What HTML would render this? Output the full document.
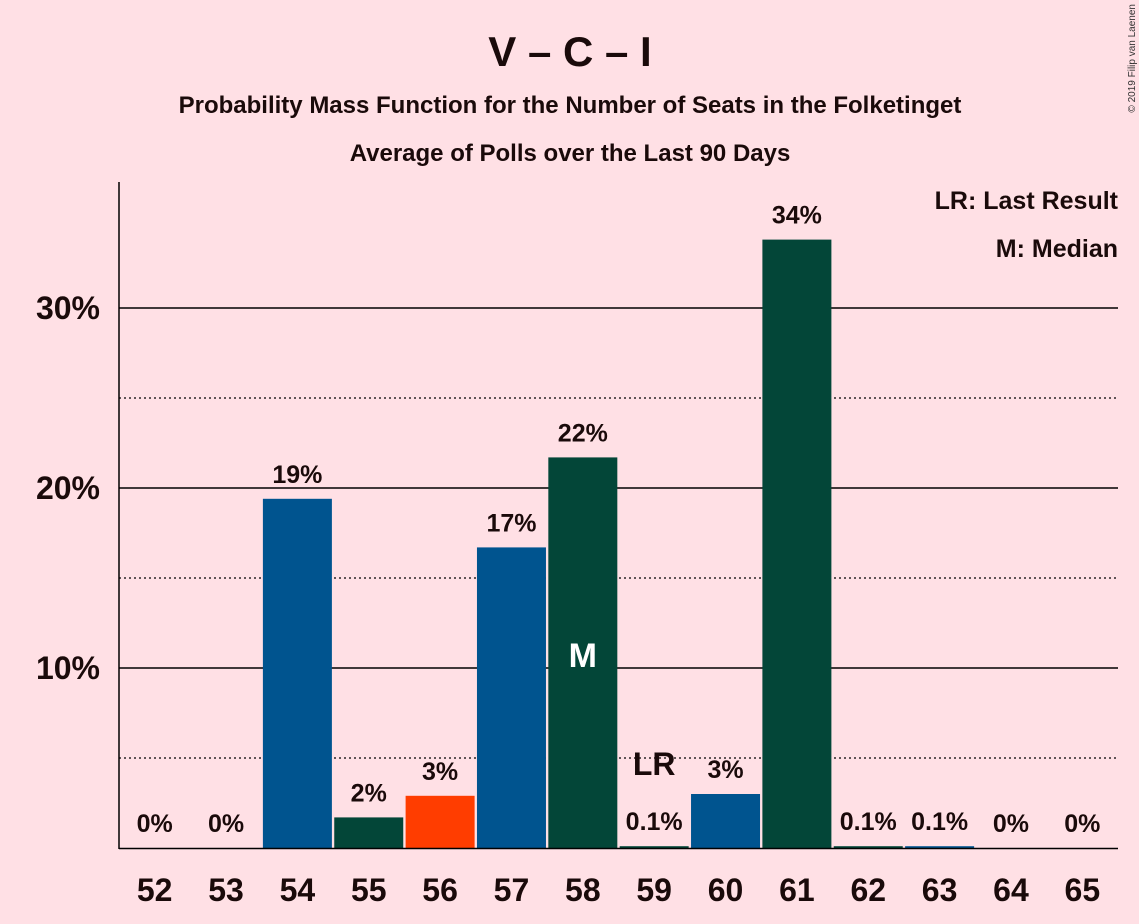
<!DOCTYPE html>
<html><head><meta charset="utf-8"><style>
html,body{margin:0;padding:0;background:#ffe0e5;}
svg{display:block;font-family:"Liberation Sans",sans-serif;}
</style></head><body>
<svg id="chart" width="1139" height="924" viewBox="0 0 1139 924">
<rect width="1139" height="924" fill="#ffe0e5"/>
<text x="570" y="66" text-anchor="middle" font-size="42" font-weight="bold" fill="#1a0a0a">V – C – I</text>
<text x="570" y="113" text-anchor="middle" font-size="24" font-weight="bold" fill="#1a0a0a">Probability Mass Function for the Number of Seats in the Folketinget</text>
<text x="570" y="161" text-anchor="middle" font-size="24" font-weight="bold" fill="#1a0a0a">Average of Polls over the Last 90 Days</text>
<text x="1135" y="4" transform="rotate(-90 1135 4)" text-anchor="end" font-size="10" fill="#333">© 2019 Filip van Laenen</text>
<text x="1118" y="209" text-anchor="end" font-size="25" font-weight="bold" fill="#1a0a0a">LR: Last Result</text>
<text x="1118" y="257" text-anchor="end" font-size="25" font-weight="bold" fill="#1a0a0a">M: Median</text>
<g id="grid"></g><g id="bars"></g><g id="labels"></g>
<line x1="119" y1="182" x2="119" y2="849" stroke="#000" stroke-width="1.5"/>
<line x1="119" y1="848.5" x2="1118" y2="848.5" stroke="#000" stroke-width="1.5"/>
</svg>
<script>
const seats=[52,53,54,55,56,57,58,59,60,61,62,63,64,65];
const probs=[0,0,19.4,1.7,2.9,16.7,21.7,0.1,3.0,33.8,0.1,0.1,0,0];
const valueLabels=["0%","0%","19%","2%","3%","17%","22%","0.1%","3%","34%","0.1%","0.1%","0%","0%"];
const barColors=["#00548f","#00548f","#00548f","#034638","#ff3d00","#00548f","#034638","#034638","#00548f","#034638","#034638","#00548f","#00548f","#034638"];
const yTicks=[10,20,30];
const yMinor=[5,15,25];
const lastResult=59, median=58;
const NS="http://www.w3.org/2000/svg";
const x0=119,step=999/14,barW=69;
const y=v=>848-18*v;
const xc=i=>x0+step*(i+0.5);
function mk(t,a,p){const e=document.createElementNS(NS,t);for(const k in a)e.setAttribute(k,a[k]);p.appendChild(e);return e;}
const g=document.getElementById('grid'),b=document.getElementById('bars'),l=document.getElementById('labels');
yTicks.forEach(t=>{const ln=mk('line',{x1:119,x2:1118,y1:y(t),y2:y(t),stroke:'#000','stroke-width':1.6},g);


const tx=mk('text',{x:100,y:y(t)+11,'text-anchor':'end','font-size':32,'font-weight':'bold',fill:'#1a0a0a'},g);tx.textContent=t+'%';

});
yMinor.forEach(t=>{const ln=mk('line',{x1:119,x2:1118,y1:y(t),y2:y(t),stroke:'#000','stroke-width':1.2,'stroke-dasharray':'2,3'},g);

});
seats.forEach((s,i)=>{const v=probs[i];
if(v>0){const r=mk('rect',{x:xc(i)-barW/2,y:y(v),width:barW,height:848-y(v),fill:barColors[i]},b);

}
const tx=mk('text',{x:xc(i),y:y(v)-16,'text-anchor':'middle','font-size':25,'font-weight':'bold',fill:'#1a0a0a'},l);tx.textContent=valueLabels[i];


const xt=mk('text',{x:xc(i),y:901,'text-anchor':'middle','font-size':32,'font-weight':'bold',fill:'#1a0a0a'},l);xt.textContent=s;


if(s===median){const m=mk('text',{x:xc(i),y:y(10)-1,'text-anchor':'middle','font-size':34,'font-weight':'bold',fill:'#fff'},l);m.textContent='M';

}
if(s===lastResult){const m=mk('text',{x:xc(i),y:y(v)-71,'text-anchor':'middle','font-size':32,'font-weight':'bold',fill:'#1a0a0a'},l);m.textContent='LR';

}
});
</script>
</body></html>
